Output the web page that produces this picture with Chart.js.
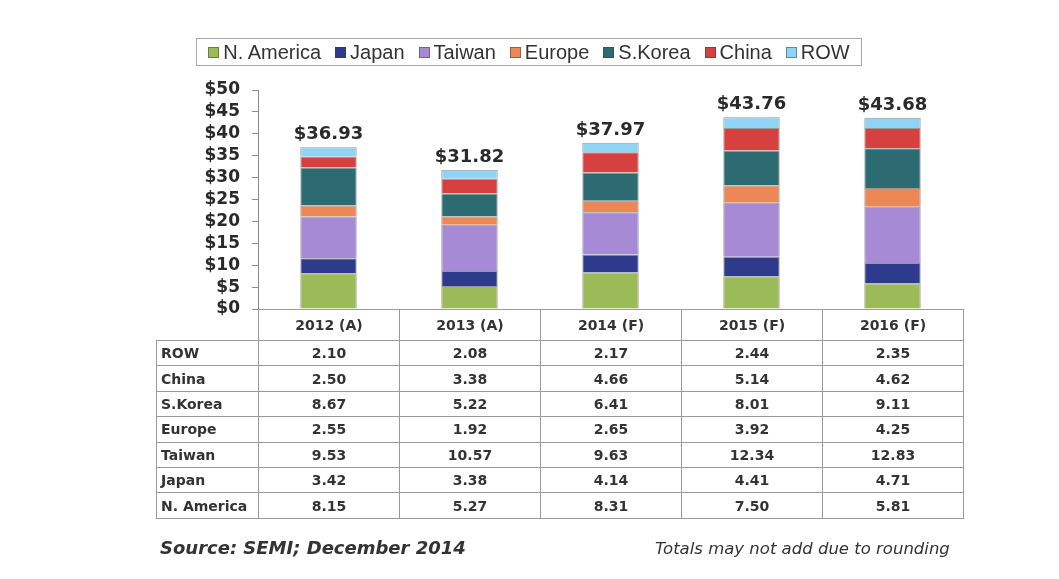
<!DOCTYPE html>
<html>
<head>
<meta charset="utf-8">
<script src="https://cdn.jsdelivr.net/npm/chart.js@4.4.1/dist/chart.umd.min.js"></script>
<style>
  html, body { margin: 0; padding: 0; background: #fff; }
  body { width: 1059px; height: 579px; position: relative; overflow: hidden; font-family: "DejaVu Sans", sans-serif; color: #2a2a2a; }
  #chart { position: absolute; left: 0; top: 0; }
  #legend {
    position: absolute; left: 196px; top: 38px; width: 664px; height: 26px;
    border: 1px solid #a8a8a8; display: flex; align-items: center; justify-content: center;
    font-family: "Liberation Sans", Arial, sans-serif; font-size: 20px; color: #333; white-space: nowrap;
  }
  .leg-item { display: flex; align-items: center; margin: 0 7px; white-space: nowrap; flex: none; }
  .leg-box { width: 9px; height: 9px; border: 1px solid rgba(60,60,60,0.5); margin-right: 4px; }
  #table { position: absolute; left: 156px; top: 309px; border-collapse: collapse; font-weight: bold; font-size: 14px; color: #333; }
  #table td { border: 1px solid #9a9a9a; padding: 0; text-align: center; height: 24.4px; }
  #table tr.head td { height: 30px; }
  #table td.lab { text-align: left; padding-left: 4px; width: 97px; }
  #table td.val { width: 140px; }
  #table td.blank { border: none; border-right: 1px solid #9a9a9a; }
  #source { position: absolute; left: 160px; top: 537px; font-size: 18px; font-weight: bold; font-style: italic; color: #333; }
  #note { position: absolute; left: 655px; top: 539px; font-size: 16.5px; font-style: italic; color: #333; }
</style>
</head>
<body>
<canvas id="chart" width="1059" height="579"></canvas>
<div id="legend"></div>
<table id="table"></table>
<div id="source">Source: SEMI; December 2014</div>
<div id="note">Totals may not add due to rounding</div>

<script>
// ---- DATA ----
const years = ["2012 (A)", "2013 (A)", "2014 (F)", "2015 (F)", "2016 (F)"];
const totals = [36.93, 31.82, 37.97, 43.76, 43.68];

const nAmerica = [8.15, 5.27, 8.31, 7.50, 5.81];
const japan    = [3.42, 3.38, 4.14, 4.41, 4.71];
const taiwan   = [9.53, 10.57, 9.63, 12.34, 12.83];
const europe   = [2.55, 1.92, 2.65, 3.92, 4.25];
const sKorea   = [8.67, 5.22, 6.41, 8.01, 9.11];
const china    = [2.50, 3.38, 4.66, 5.14, 4.62];
const row      = [2.10, 2.08, 2.17, 2.44, 2.35];

const yTicks = [0, 5, 10, 15, 20, 25, 30, 35, 40, 45, 50];

// stack order, bottom to top
const series = [
    { name: "N. America", data: nAmerica, color: "#9bbb59" },
    { name: "Japan",      data: japan,    color: "#2e3b8c" },
    { name: "Taiwan",     data: taiwan,   color: "#a78ad6" },
    { name: "Europe",     data: europe,   color: "#ec8756" },
    { name: "S.Korea",    data: sKorea,   color: "#2c6b72" },
    { name: "China",      data: china,    color: "#d6403e" },
    { name: "ROW",        data: row,      color: "#8fd4f4" }
];

// ---- LEGEND (html, left to right) ----
const legend = document.getElementById("legend");
for (let s of series) {
    const item = document.createElement("div");
    item.className = "leg-item";
    const box = document.createElement("span");
    box.className = "leg-box";
    box.style.background = s.color;
    item.appendChild(box);
    item.appendChild(document.createTextNode(s.name));
    legend.appendChild(item);
}

// ---- TABLE (top row is ROW, bottom is N. America) ----
const table = document.getElementById("table");
let head = "<tr class='head'><td class='blank'></td>";
for (let y of years) head += "<td class='val'>" + y + "</td>";
table.innerHTML = head + "</tr>";
for (let i = series.length - 1; i >= 0; i--) {
    let tr = "<tr><td class='lab'>" + series[i].name + "</td>";
    for (let v of series[i].data) tr += "<td class='val'>" + v.toFixed(2) + "</td>";
    table.innerHTML += tr + "</tr>";
}

// ---- totals above each bar ----
const totalsPlugin = {
    id: "totals",
    afterDatasetsDraw(chart) {
        const ctx = chart.ctx;
        const topMeta = chart.getDatasetMeta(series.length - 1);
        ctx.save();
        ctx.font = "bold 18px 'DejaVu Sans'";
        ctx.fillStyle = "#2a2a2a";
        ctx.textAlign = "center";
        ctx.textBaseline = "alphabetic";
        topMeta.data.forEach((bar, i) => {
            ctx.fillText("$" + totals[i].toFixed(2), bar.x, bar.y - 8);
        });
        ctx.restore();
    }
};

// ---- CHART ----
new Chart(document.getElementById("chart").getContext("2d"), {
    type: "bar",
    data: {
        labels: years,
        datasets: series.map(s => ({
            label: s.name,
            data: s.data,
            backgroundColor: s.color,
            borderColor: "rgba(70,70,70,0.55)",
            borderWidth: 1,
            barPercentage: 0.4,
            categoryPercentage: 1
        }))
    },
    options: {
        responsive: false,
        animation: false,
        layout: { padding: { left: 198, right: 96, top: 90, bottom: 270 } },
        plugins: { legend: { display: false }, tooltip: { enabled: false } },
        scales: {
            x: { stacked: true, display: false },
            y: {
                stacked: true,
                min: 0,
                max: 50,
                afterBuildTicks: axis => { axis.ticks = yTicks.map(v => ({ value: v })); },
                afterFit: axis => { axis.width = 60; },
                ticks: {
                    autoSkip: false,
                    padding: 12,
                    color: "#2a2a2a",
                    font: { family: "DejaVu Sans", size: 17, weight: "bold" },
                    callback: v => "$" + v
                },
                grid: { drawOnChartArea: false, drawTicks: true, tickLength: 6, color: "#8a8a8a" },
                border: { display: true, color: "#8a8a8a" }
            }
        }
    },
    plugins: [totalsPlugin]
});
</script>
</body>
</html>
